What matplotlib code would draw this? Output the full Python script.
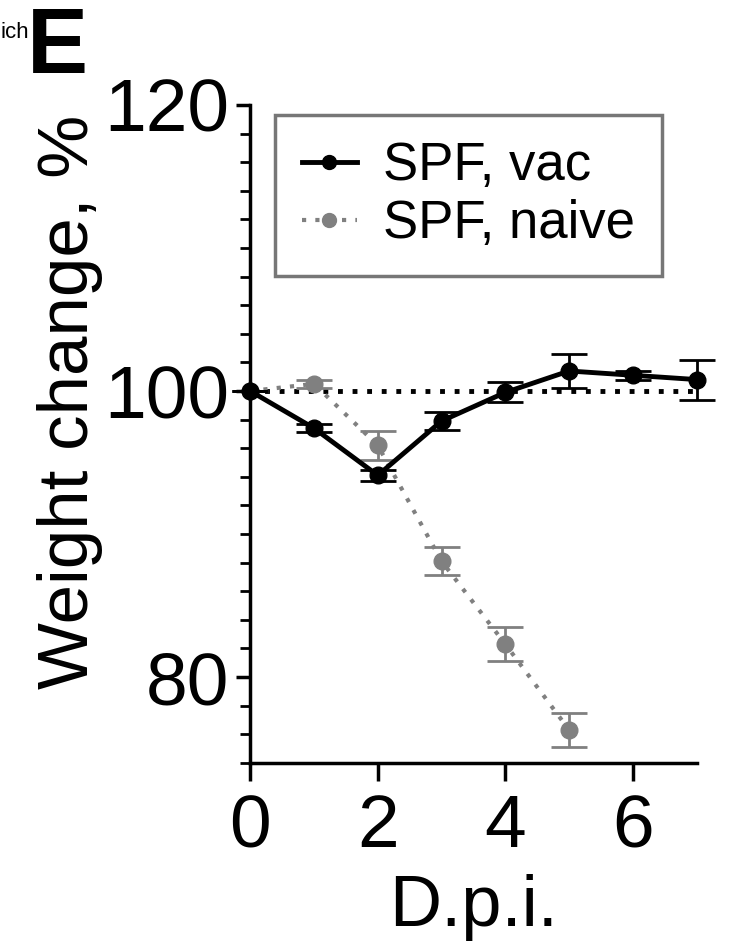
import matplotlib.pyplot as plt
from matplotlib.lines import Line2D
from matplotlib.ticker import MultipleLocator

plt.rcParams['font.family'] = ['Liberation Sans', 'DejaVu Sans']

# days post infection
dpi_vac = [0, 1, 2, 3, 4, 5, 6, 7]
vac_mean = [100.0, 97.4, 94.1, 97.9, 99.9, 101.4, 101.1, 100.8]
vac_err = [0.0, 0.3, 0.4, 0.6, 0.7, 1.2, 0.3, 1.4]

dpi_naive = [0, 1, 2, 3, 4, 5]
naive_mean = [100.0, 100.5, 96.2, 88.1, 82.3, 76.3]
naive_err = [0.0, 0.3, 1.0, 1.0, 1.2, 1.2]

baseline = 100
gray = '#808080'
dot_style = (0, (1, 2.2))

fig = plt.figure(figsize=(7.38, 9.5), dpi=100)
ax = fig.add_axes([0.339, 0.197, 0.605, 0.6925])

ax.hlines(baseline, 0, 7, colors='black', linestyles=(0, (1, 2)), linewidth=3.5, zorder=1)

n = ax.errorbar(dpi_naive, naive_mean, yerr=naive_err, color=gray, ecolor=gray,
                linestyle=dot_style, linewidth=3, marker='o', markersize=12,
                capsize=13, elinewidth=2, capthick=2, zorder=2)
v = ax.errorbar(dpi_vac, vac_mean, yerr=vac_err, color='black', ecolor='black',
                linewidth=3.5, marker='o', markersize=12, capsize=13, elinewidth=2,
                capthick=2, zorder=3)
for cont in (n, v):
    for art in cont.get_children():
        art.set_clip_on(False)

ax.set_xlim(0, 7)
ax.set_ylim(74, 120)
ax.set_xticks([0, 2, 4, 6])
ax.set_yticks([80, 100, 120])
ax.yaxis.set_minor_locator(MultipleLocator(2))
for s in ['top', 'right']:
    ax.spines[s].set_visible(False)
for s in ['left', 'bottom']:
    ax.spines[s].set_linewidth(2.5)
ax.tick_params(which='major', length=10, width=2.5, labelsize=54, pad=5)
ax.tick_params(axis='x', which='major', length=13, pad=9)
ax.tick_params(which='minor', length=7, width=2)

ax.set_xlabel('D.p.i.', fontsize=52, labelpad=8)
ax.set_ylabel('Weight change, %', fontsize=51)
ax.yaxis.set_label_coords(-0.33, 0.548)

handles = [
    Line2D([], [], color='black', linewidth=3.5, marker='o', markersize=10),
    Line2D([], [], color=gray, linewidth=3, linestyle=dot_style, marker='o', markersize=10),
]
leg = ax.legend(handles, ['SPF, vac', 'SPF, naive'], loc='upper left',
                bbox_to_anchor=(0.056, 0.985), fontsize=38, frameon=True,
                fancybox=False, handlelength=1.05, handletextpad=0.5,
                borderpad=0.5, labelspacing=0.15, borderaxespad=0)
leg.get_frame().set_edgecolor('#555555')
leg.get_frame().set_linewidth(2.5)

fig.text(0, 1 - 32 / 950, 'ich', fontsize=16, ha='left', va='center')
fig.text(27 / 738, 1 - 49 / 950, 'E', fontsize=66, fontweight='bold', ha='left', va='center')

fig.savefig('out.png', dpi=100)
